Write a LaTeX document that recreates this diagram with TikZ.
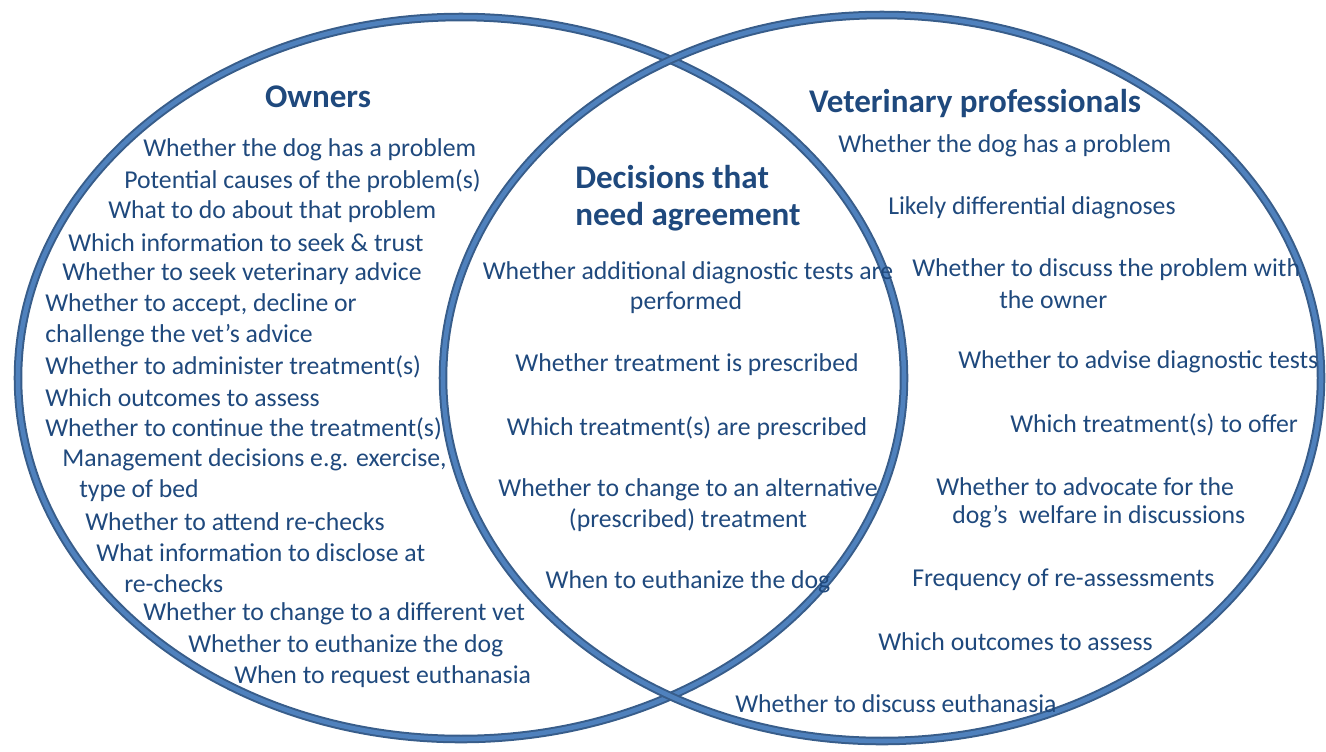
\documentclass[tikz,border=0pt]{standalone}
\usepackage{fontspec}
\setmainfont{Carlito}
\usepackage{tikz}
\definecolor{ringdark}{RGB}{56,93,138}
\definecolor{ringlight}{RGB}{79,129,189}
\definecolor{textblue}{RGB}{31,73,125}
\tikzset{
RING/.style ={draw=ringdark,double=ringlight,double distance=3.4,line width=1.5},
ITEM/.style ={textblue,anchor=west,inner sep=0pt,font=\fontsize{19.3}{22}\selectfont},
CITEM/.style ={textblue,anchor=center,inner sep=0pt,font=\fontsize{19.3}{22}\selectfont},
HEAD/.style ={textblue,inner sep=0pt,font=\fontsize{24.8}{28}\selectfont\bfseries},
}
\begin{document}
\begin{tikzpicture} %Venn
[x=0.75pt,y=-0.75pt]
	\useasboundingbox (0,0) rectangle (1326,751);
	\path[RING] (461,378) ellipse [x radius=443, y radius=361];
	\path[RING] (882,378) ellipse [x radius=439, y radius=363];
	% owners
	\node[HEAD] (owners) at (318,97) {Owners};
	\node[ITEM] (o1) at (143,150) {Whether the dog has a problem};
	\node[ITEM] (o2) at (124,181) {Potential causes of the problem(s)};
	\node[ITEM] (o3) at (108,212) {What to do about that problem};
	\node[ITEM] (o4) at (68,243) {Which information to seek \& trust};
	\node[ITEM] (o5) at (62,274) {Whether to seek veterinary advice};
	\node[ITEM] (o6) at (45,305) {Whether to accept, decline or};
	\node[ITEM] (o6b) at (45,336) {challenge the vet’s advice};
	\node[ITEM] (o7) at (45,367) {Whether to administer treatment(s)};
	\node[ITEM] (o8) at (45,398) {Which outcomes to assess};
	\node[ITEM] (o9) at (45,429) {Whether to continue the treatment(s)};
	\node[ITEM] (o10) at (62,460) {Management decisions e.g. exercise,};
	\node[ITEM] (o10b) at (79,491) {type of bed};
	\node[ITEM] (o11) at (85,522) {Whether to attend re-checks};
	\node[ITEM] (o12) at (96,553) {What information to disclose at};
	\node[ITEM] (o12b) at (124,584) {re-checks};
	\node[ITEM] (o13) at (143,614) {Whether to change to a different vet};
	\node[ITEM] (o14) at (188,646) {Whether to euthanize the dog};
	\node[ITEM] (o15) at (234,677) {When to request euthanasia};
	% agreement
	\node[HEAD,anchor=west] (agree) at (575,177) {Decisions that};
	\node[HEAD,anchor=west] (agreeb) at (575,217) {need agreement};
	\node[CITEM] (a1) at (688,273) {Whether additional diagnostic tests are};
	\node[CITEM] (a1b) at (686,303) {performed};
	\node[CITEM] (a2) at (687,365) {Whether treatment is prescribed};
	\node[CITEM] (a3) at (687,428) {Which treatment(s) are prescribed};
	\node[CITEM] (a4) at (688,490) {Whether to change to an alternative};
	\node[CITEM] (a4b) at (688,520) {(prescribed) treatment};
	\node[CITEM] (a5) at (688,582) {When to euthanize the dog};
	% vets
	\node[HEAD] (vets) at (975,103) {Veterinary professionals};
	\node[ITEM] (v1) at (838,146) {Whether the dog has a problem};
	\node[ITEM] (v2) at (888,208) {Likely differential diagnoses};
	\node[ITEM] (v3) at (912,270) {Whether to discuss the problem with};
	\node[ITEM] (v3b) at (999,300) {the owner};
	\node[ITEM] (v4) at (958,362) {Whether to advise diagnostic tests};
	\node[ITEM] (v5) at (1010,425) {Which treatment(s) to offer};
	\node[ITEM] (v6) at (936,487) {Whether to advocate for the};
	\node[ITEM] (v6b) at (952,517) {dog’s\ \ welfare in discussions};
	\node[ITEM] (v7) at (912,580) {Frequency of re-assessments};
	\node[ITEM] (v8) at (878,642) {Which outcomes to assess};
	\node[ITEM] (v9) at (735,704) {Whether to discuss euthanasia};
\end{tikzpicture}
\end{document}
